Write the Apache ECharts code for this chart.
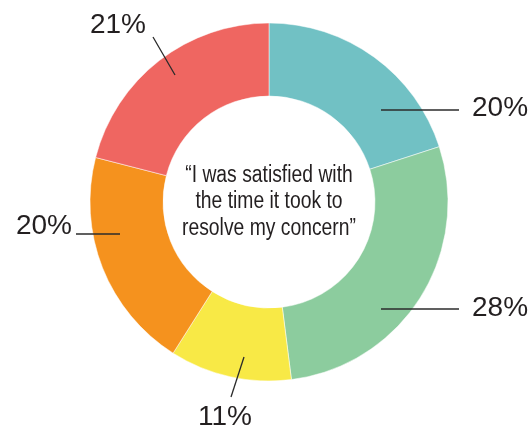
<!DOCTYPE html>
<html>
<head>
<meta charset="utf-8">
<script src="https://cdn.jsdelivr.net/npm/echarts@6/dist/echarts.min.js"></script>
<style>
  html, body { margin: 0; padding: 0; background: #ffffff; }
  #chart { width: 532px; height: 428px; }
</style>
</head>
<body>
<div id="chart"></div>
<script>
// Survey answer shares, clockwise from 12 o'clock
const categories = ['Strongly agree', 'Agree', 'Neutral', 'Disagree', 'Strongly disagree'];
const shares = [20, 28, 11, 20, 21];
const sliceColors = ['#71C1C4', '#8CCC9E', '#F8E946', '#F5921E', '#EF6661'];
const centerText = ['\u201CI was satisfied with', 'the time it took to', 'resolve my concern\u201D'];

// Ring geometry
const CX = 269, CY = 202;
const R_IN = 106, R_OUT = 179;

// Callout placement per slice, as offsets from the ring centre:
// text anchor, text alignment, and the leader line (start -> end).
const callouts = [
  { text: [203, -94],  align: 'left',   line: [[112, -92], [190, -92]] },
  { text: [203, 106],  align: 'left',   line: [[112, 107], [190, 107]] },
  { text: [-44, 215],  align: 'center', line: [[-25, 155], [-38, 195]] },
  { text: [-197, 24],  align: 'right',  line: [[-149, 32], [-193, 32]] },
  { text: [-151, -177], align: 'center', line: [[-94, -127], [-116, -165]] }
];

const ringBase = {
  type: 'pie',
  center: [CX, CY],
  radius: [R_IN, R_OUT],
  startAngle: 90,
  clockwise: true,
  avoidLabelOverlap: false,
  silent: true
};

const chart = echarts.init(document.getElementById('chart'), null, { renderer: 'canvas' });

chart.setOption({
  animation: false,
  backgroundColor: '#ffffff',
  series: [
    // coloured ring
    Object.assign({}, ringBase, {
      z: 2,
      itemStyle: { borderColor: '#ffffff', borderWidth: 0.5 },
      label: { show: false },
      labelLine: { show: false },
      data: categories.map((name, i) => ({
        name: name,
        value: shares[i],
        itemStyle: { color: sliceColors[i] }
      }))
    }),
    // clear overlay ring carrying the callouts, so leader lines sit on top of the slices
    Object.assign({}, ringBase, {
      z: 3,
      itemStyle: { color: 'rgba(0,0,0,0)' },
      label: {
        show: true,
        position: 'outside',
        formatter: p => p.value + '%',
        fontFamily: '"Liberation Sans", Arial, sans-serif',
        fontSize: 28,
        color: '#231F20'
      },
      labelLine: {
        show: true,
        lineStyle: { color: '#2B2B2B', width: 1.3, opacity: 1 }
      },
      labelLayout: function (params) {
        const c = callouts[params.dataIndex];
        const a = c.line[0], b = c.line[1];
        return {
          x: CX + c.text[0],
          y: CY + c.text[1],
          align: c.align,
          verticalAlign: 'middle',
          labelLinePoints: [
            [CX + a[0], CY + a[1]],
            [CX + (a[0] + b[0]) / 2, CY + (a[1] + b[1]) / 2],
            [CX + b[0], CY + b[1]]
          ]
        };
      },
      data: categories.map((name, i) => ({ name: name, value: shares[i] }))
    })
  ],
  graphic: [{
    // condensed caption: regular sans squeezed horizontally
    type: 'text',
    x: CX,
    y: CY,
    scaleX: 0.84,
    silent: true,
    style: {
      text: centerText.join('\n'),
      align: 'center',
      verticalAlign: 'middle',
      fontFamily: '"Liberation Sans", Arial, sans-serif',
      fontSize: 23,
      lineHeight: 26.5,
      fill: '#231F20'
    }
  }]
});
</script>
</body>
</html>
